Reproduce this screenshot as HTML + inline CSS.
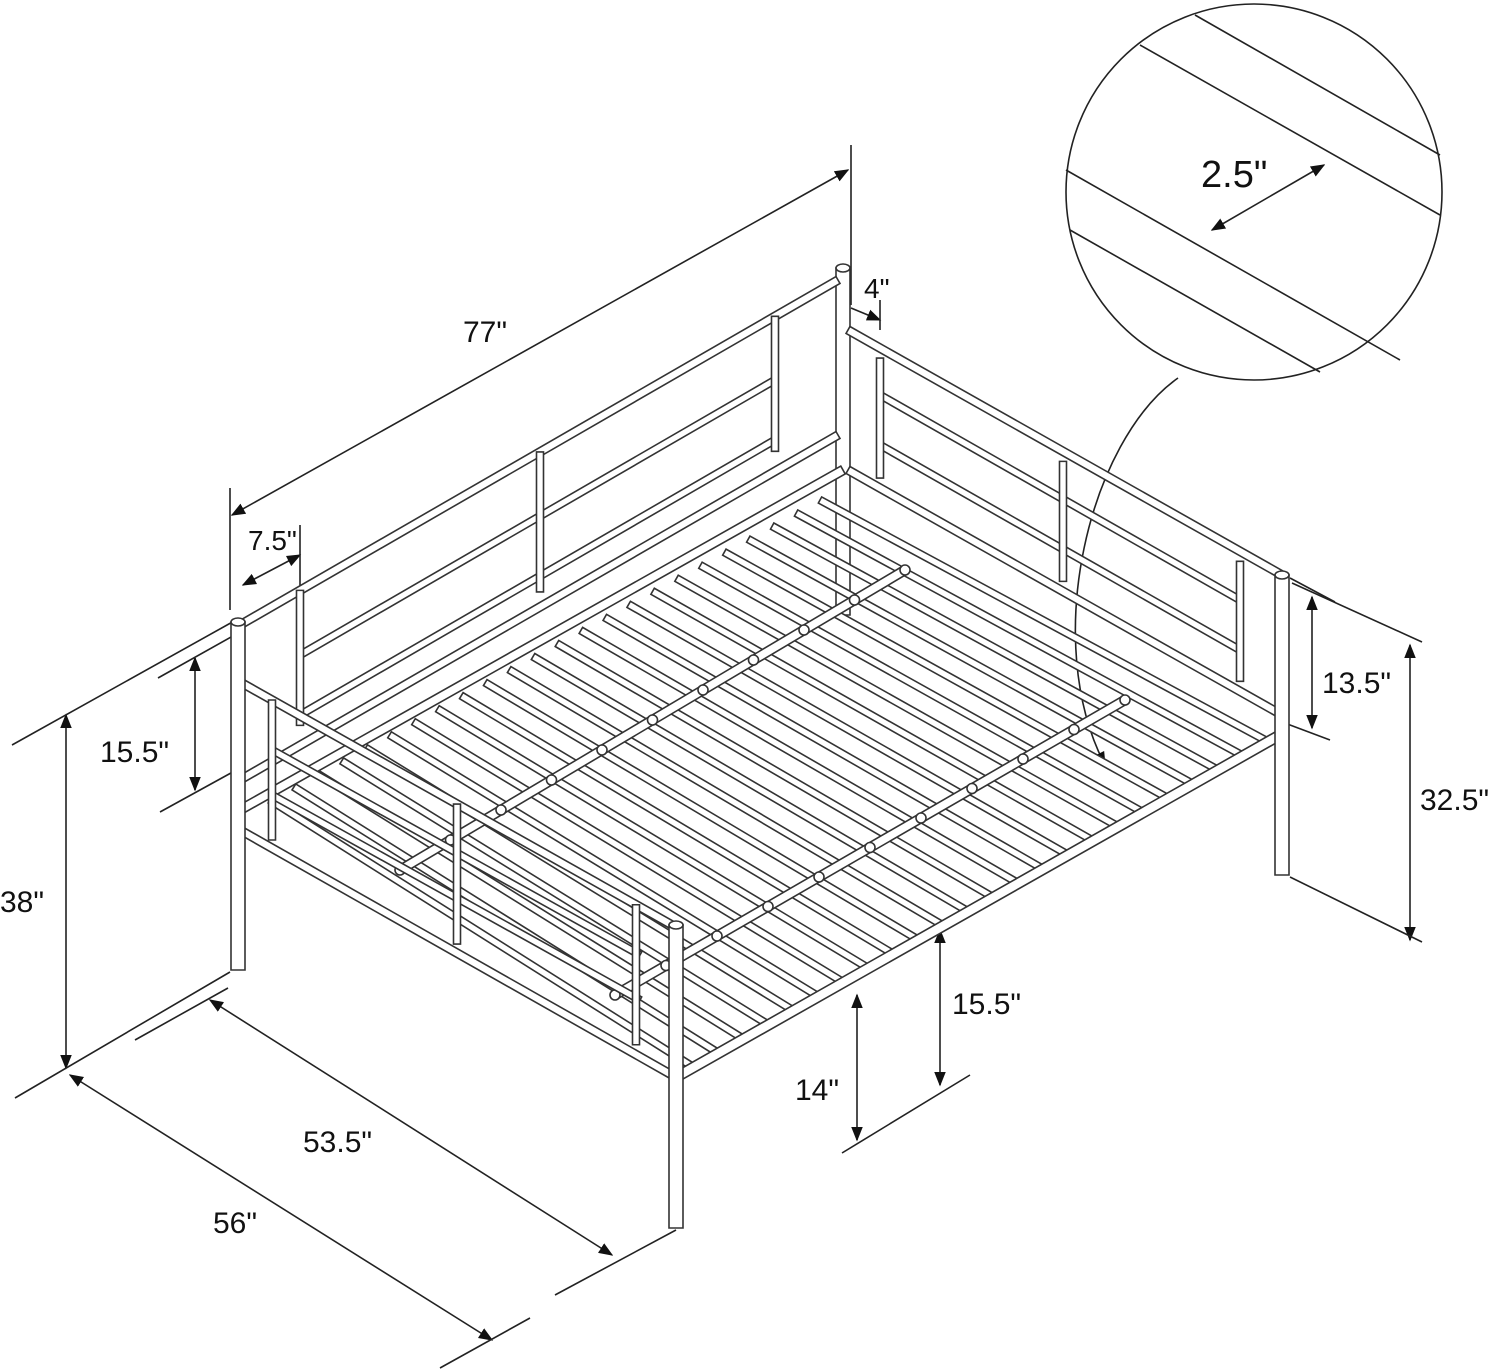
<!DOCTYPE html>
<html><head><meta charset="utf-8"><style>
html,body{margin:0;padding:0;background:#fff;}
svg{display:block}
text{font-family:"Liberation Sans",sans-serif;fill:#111;}
</style></head><body>
<svg id="s" width="1500" height="1371" viewBox="0 0 1500 1371" xmlns="http://www.w3.org/2000/svg">
<defs>
<marker id="a" viewBox="0 0 10 10" refX="9" refY="5" markerWidth="9" markerHeight="9" orient="auto-start-reverse"><path d="M0,1 L10,5 L0,9 z" fill="#111"/></marker>
</defs>
<g stroke="#222" stroke-width="1.6" fill="none">
<circle cx="1254" cy="192" r="188"/>
<line x1="1140" y1="45" x2="1440" y2="215"/>
<line x1="1195" y1="15" x2="1440" y2="155"/>
<line x1="1066" y1="170" x2="1400" y2="360"/>
<line x1="1070" y1="230" x2="1320" y2="372"/>
<path d="M1178,378 C1090,440 1040,640 1105,765" marker-end="url(#a)"/>
<line x1="1212" y1="230" x2="1324" y2="165" marker-start="url(#a)" marker-end="url(#a)"/>
<line x1="232" y1="515" x2="848" y2="170" marker-start="url(#a)" marker-end="url(#a)"/>
<line x1="230" y1="488" x2="230" y2="610"/>
<line x1="851" y1="145" x2="851" y2="305"/>
<line x1="851" y1="308" x2="880" y2="320" marker-end="url(#a)"/>
<line x1="880" y1="300" x2="880" y2="330"/>
<line x1="243" y1="585" x2="300" y2="555" marker-start="url(#a)" marker-end="url(#a)"/>
<line x1="300" y1="525" x2="300" y2="680"/>
<line x1="195" y1="658" x2="195" y2="790" marker-start="url(#a)" marker-end="url(#a)"/>
<line x1="158" y1="678" x2="240" y2="632"/>
<line x1="160" y1="812" x2="240" y2="768"/>
<line x1="66" y1="715" x2="66" y2="1068" marker-start="url(#a)" marker-end="url(#a)"/>
<line x1="12" y1="745" x2="236" y2="620"/>
<line x1="15" y1="1098" x2="230" y2="972"/>
<line x1="210" y1="1000" x2="612" y2="1255" marker-start="url(#a)" marker-end="url(#a)"/>
<line x1="135" y1="1040" x2="228" y2="988"/>
<line x1="555" y1="1295" x2="676" y2="1230"/>
<line x1="70" y1="1075" x2="492" y2="1340" marker-start="url(#a)" marker-end="url(#a)"/>
<line x1="440" y1="1368" x2="530" y2="1318"/>
<line x1="857" y1="995" x2="857" y2="1140" marker-start="url(#a)" marker-end="url(#a)"/>
<line x1="842" y1="1153" x2="970" y2="1075"/>
<line x1="940" y1="930" x2="940" y2="1085" marker-start="url(#a)" marker-end="url(#a)"/>
<line x1="1312" y1="597" x2="1312" y2="728" marker-start="url(#a)" marker-end="url(#a)"/>
<line x1="1290" y1="578" x2="1335" y2="602"/>
<line x1="1282" y1="722" x2="1330" y2="740"/>
<line x1="1410" y1="645" x2="1410" y2="940" marker-start="url(#a)" marker-end="url(#a)"/>
<line x1="1292" y1="583" x2="1422" y2="642"/>
<line x1="1290" y1="877" x2="1422" y2="942"/>
</g>
<g id="bed" stroke="#333" stroke-width="1.6" fill="#fff"></g>
<g font-size="30">
<text x="1201" y="187" font-size="38">2.5"</text>
<text x="463" y="342">77"</text>
<text x="864" y="298" font-size="28">4"</text>
<text x="248" y="550" font-size="28">7.5"</text>
<text x="100" y="762">15.5"</text>
<text x="0" y="912">38"</text>
<text x="303" y="1152">53.5"</text>
<text x="213" y="1233">56"</text>
<text x="795" y="1100">14"</text>
<text x="952" y="1014">15.5"</text>
<text x="1322" y="693">13.5"</text>
<text x="1420" y="810">32.5"</text>
</g>
</svg>
<script>
var g=document.getElementById('bed'),NS='http://www.w3.org/2000/svg';
function tube(x1,y1,x2,y2,w){var dx=x2-x1,dy=y2-y1,l=Math.hypot(dx,dy),nx=-dy/l*w/2,ny=dx/l*w/2;
var p=document.createElementNS(NS,'polygon');p.setAttribute('points',[x1+nx,y1+ny,x2+nx,y2+ny,x2-nx,y2-ny,x1-nx,y1-ny].join(' '));g.appendChild(p);}
function post(x,y1,y2){tube(x,y1,x,y2,14);var e=document.createElementNS(NS,'ellipse');e.setAttribute('cx',x);e.setAttribute('cy',y1);e.setAttribute('rx',7);e.setAttribute('ry',4);g.appendChild(e);}
post(843,268,615);
tube(240,625,838,280,8);tube(240,780,838,435,8);
tube(300,655,775,380,7);tube(300,715,775,440,7);
[300,540,775].forEach(function(x){var y=625+(x-240)*(-345/598);tube(x,y,x,y+(x==540?140:135),7);});
for(var k=0;k<24;k++){var t=k/23;tube(270+550*t,800-300*t,690+575*t,1065-325*t,7);}
tube(400,870,905,570,9);tube(615,995,1125,700,9);
for(var k=0;k<11;k++){var t=k/10;var c=document.createElementNS(NS,'circle');c.setAttribute('cx',400+505*t);c.setAttribute('cy',870-300*t);c.setAttribute('r',5);g.appendChild(c);
c=c.cloneNode();c.setAttribute('cx',615+510*t);c.setAttribute('cy',995-295*t);g.appendChild(c);}
tube(240,810,843,470,9);tube(680,1075,1280,735,10);
tube(848,330,1282,575,8);tube(848,470,1282,715,8);
tube(880,395,1240,600,7);tube(880,445,1240,650,7);
[880,1063,1240].forEach(function(x){var y=330+(x-848)*(245/434);tube(x,y+10,x,y+130,7);});
post(1282,575,875);
tube(240,682,672,925,8);tube(240,830,672,1075,8);
tube(272,750,640,955,7);tube(272,795,640,1000,7);
[272,457,636].forEach(function(x){var y=682+(x-240)*(243/432);tube(x,y,x,y+140,7);});
post(238,622,970);post(676,925,1228);
</script>
</body></html>
